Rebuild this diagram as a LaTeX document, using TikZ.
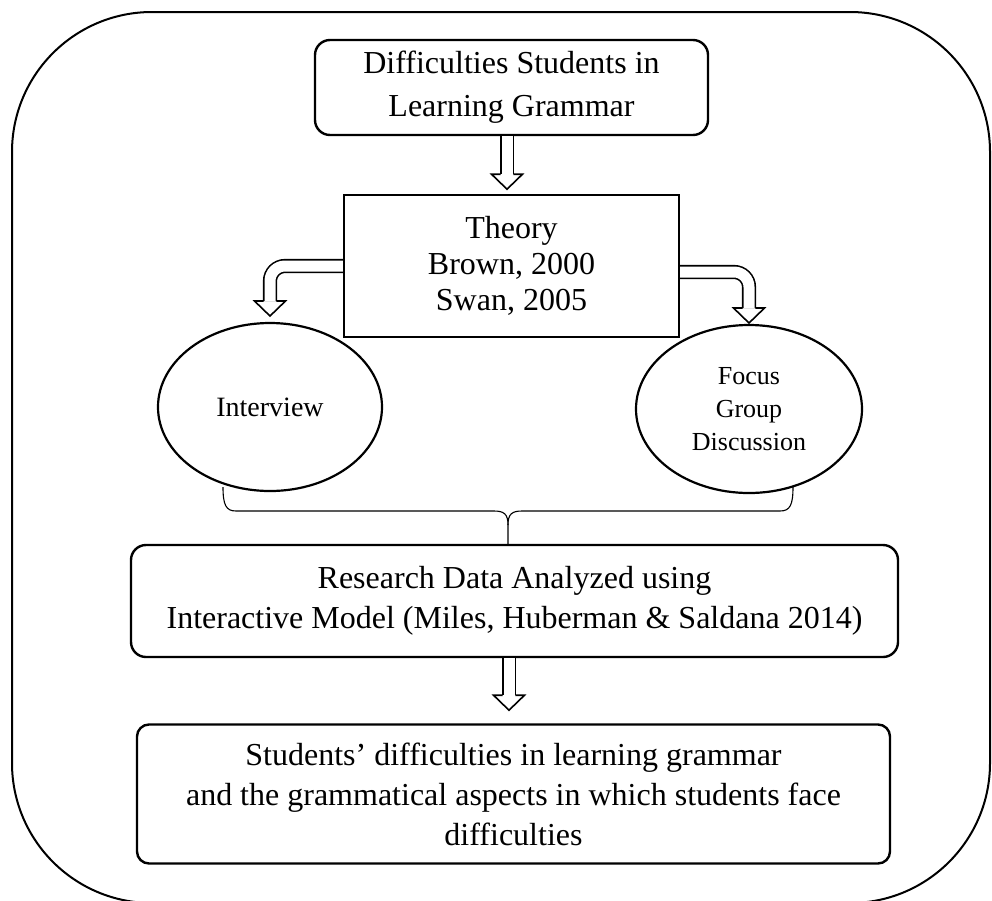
\documentclass[tikz,border=0pt]{standalone}
\usepackage{fontspec}
\setmainfont{Liberation Serif}
\usetikzlibrary{shapes.geometric}

\tikzset{
  roundbox/.style={draw, line width=2.4, rounded corners=15, inner sep=0, outer sep=0, align=center},
  plainbox/.style={draw, line width=2.4, inner sep=0, outer sep=0, align=center},
  oval/.style={draw, ellipse, line width=2.2, inner sep=0, outer sep=0, align=center},
  shaft/.style={line width=1.6, double=white, double distance=11},
  tipdown/.pic={\draw[line width=1.6] (-6.3,0) -- (-15.5,0) -- (0,15) -- (15.5,0) -- (6.3,0);},
}

\begin{document}
\begin{tikzpicture}[x=1pt, y=-1pt]
  \path[use as bounding box, clip] (0,0) rectangle (992,900);
  \draw[line width=2, rounded corners=140] (12,12) rectangle (990,903);

  \node[roundbox, minimum width=393, minimum height=95, font=\fontsize{32}{43}\selectfont] (diff) at (511.5,87.5) {Difficulties Students in\\Learning Grammar};
  \node[plainbox, minimum width=335, minimum height=142, font=\fontsize{32}{36}\selectfont] (theory) at (511.5,266) {Theory\\Brown, 2000\\Swan, 2005};
  \node[oval, minimum width=224, minimum height=168, font=\fontsize{28}{33}\selectfont] (interview) at (270,407) {Interview};
  \node[oval, minimum width=226, minimum height=168, font=\fontsize{26}{33}\selectfont] (fgd) at (749,409) {Focus\\Group\\Discussion};
  \node[roundbox, minimum width=767, minimum height=112, font=\fontsize{32}{40}\selectfont] (research) at (514.5,601) {Research Data Analyzed using\\Interactive Model (Miles, Huberman \& Saldana 2014)};
  \node[roundbox, rounded corners=12, minimum width=753, minimum height=139, font=\fontsize{32}{40}\selectfont] (result) at (513.5,794) {Students’ difficulties in learning grammar\\and the grammatical aspects in which students face\\difficulties};

  % block arrows
  \draw[shaft] ([xshift=-4.5,yshift=-1.2]diff.south) -- ++(0,38) coordinate (a1);
  \pic at (a1) {tipdown};
  \draw[shaft, rounded corners=15] ([xshift=-1.2]theory.west) -| ([yshift=22]interview.north);
  \pic at ([yshift=22]interview.north) {tipdown};
  \draw[shaft, rounded corners=15] ([xshift=1.2,yshift=-6]theory.east) -| ([yshift=17]fgd.north);
  \pic at ([yshift=17]fgd.north) {tipdown};
  \draw[shaft] ([xshift=-5.5,yshift=-1.2]research.south) -- ++(0,37) coordinate (a2);
  \pic at (a2) {tipdown};

  % brace under the two methods
  \coordinate (braceL) at (223,487);
  \coordinate (braceR) at (793,487);
  \draw[line width=1.1] (braceL) .. controls (223,505) and (226,511) .. (236,511) -- (494,511)
    .. controls (504,511) and (508,514) .. (508,525) -- ([xshift=-6.5]research.north);
  \draw[line width=1.1] (braceR) .. controls (793,505) and (790,511) .. (780,511) -- (522,511)
    .. controls (512,511) and (508,514) .. (508,525);
\end{tikzpicture}
\end{document}
